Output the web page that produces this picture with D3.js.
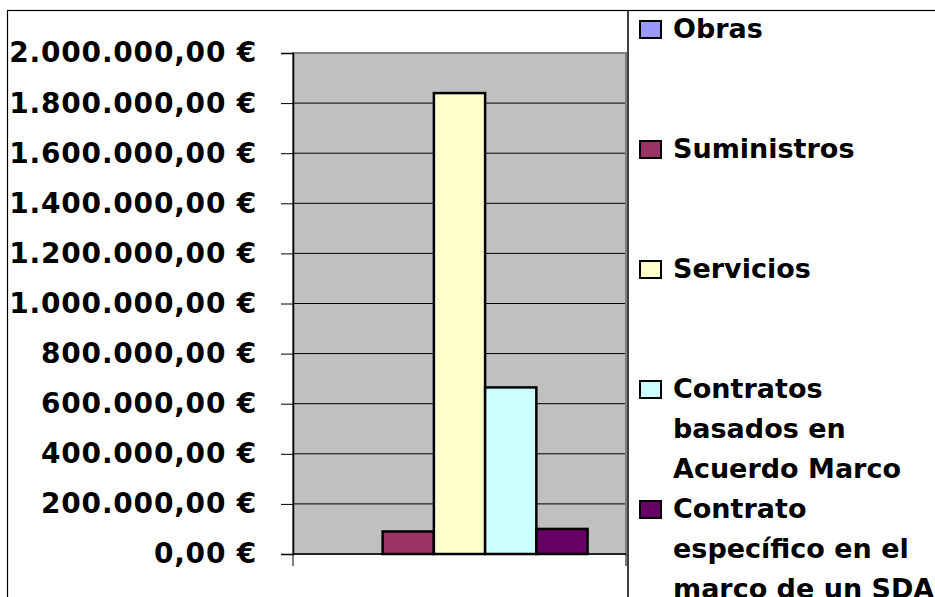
<!DOCTYPE html>
<html>
<head>
<meta charset="utf-8">
<script src="https://cdn.jsdelivr.net/npm/d3@7"></script>
<style>
  body { margin: 0; background: #fff; }
  svg { display: block; }
</style>
</head>
<body>
<div id="chart"></div>
<script>
// Datos
const series = ['Obras', 'Suministros', 'Servicios', 'Contratos basados en Acuerdo Marco', 'Contrato específico en el marco de un SDA'];
const values = [0, 90000, 1840000, 665000, 100000];
const colors = ['#9999FF', '#993366', '#FFFFCC', '#CCFFFF', '#660066'];
const legendLines = [
    ['Obras'],
    ['Suministros'],
    ['Servicios'],
    ['Contratos', 'basados en', 'Acuerdo Marco'],
    ['Contrato', 'específico en el', 'marco de un SDA']
];
const yTicks = [0, 200000, 400000, 600000, 800000, 1000000, 1200000, 1400000, 1600000, 1800000, 2000000];

const W = 935, H = 597;
const plot = { left: 293, right: 626, top: 53, bottom: 554 };

const svg = d3.select('#chart').append('svg')
    .attr('width', W)
    .attr('height', H);

// Borde exterior del gráfico
svg.append('rect')
    .attr('x', 7.5).attr('y', 10.5)
    .attr('width', W).attr('height', H)
    .attr('fill', 'none')
    .attr('stroke', '#000')
    .attr('stroke-width', 1.2);

const y = d3.scaleLinear()
    .domain([0, 2000000])
    .range([plot.bottom, plot.top]);

const x = d3.scaleBand()
    .domain(series)
    .range([plot.left, plot.right])
    .paddingInner(0)
    .paddingOuter(0.75);

// Formato español: 1.800.000,00 €
const es = d3.formatLocale({ decimal: ',', thousands: '.', grouping: [3], currency: ['', ' €'] });
const fmt = es.format('$,.2f');

// Fondo del área de trazado
svg.append('rect')
    .attr('x', plot.left).attr('y', plot.top)
    .attr('width', plot.right - plot.left).attr('height', plot.bottom - plot.top)
    .attr('fill', '#C0C0C0')
    .attr('stroke', '#808080')
    .attr('stroke-width', 2);

// Líneas de cuadrícula
svg.append('g')
    .selectAll('line')
    .data(yTicks.filter(d => d > 0 && d < 2000000))
    .enter().append('line')
    .attr('x1', plot.left).attr('x2', plot.right - 1)
    .attr('y1', d => y(d)).attr('y2', d => y(d))
    .attr('stroke', '#000')
    .attr('stroke-width', 1);

// Eje Y
const yAxis = svg.append('g')
    .attr('transform', `translate(${plot.left},0)`)
    .call(d3.axisLeft(y).tickValues(yTicks).tickFormat(fmt).tickSize(12).tickPadding(24));
yAxis.select('.domain').attr('stroke', '#000').attr('stroke-width', 1.5);
yAxis.selectAll('.tick line').attr('stroke', '#000').attr('stroke-width', 1);
yAxis.selectAll('text')
    .attr('font-family', 'DejaVu Sans, Verdana, sans-serif')
    .attr('font-weight', 'bold')
    .attr('font-size', '28px')
    .attr('letter-spacing', '0.8px')
    .attr('fill', '#000');

// Barras
svg.append('g')
    .selectAll('rect')
    .data(series.map((s, i) => ({ name: s, value: values[i], color: colors[i] })))
    .enter().append('rect')
    .attr('x', d => x(d.name))
    .attr('y', d => y(d.value))
    .attr('width', x.bandwidth())
    .attr('height', d => y(0) - y(d.value))
    .attr('fill', d => d.color)
    .attr('stroke', '#000')
    .attr('stroke-width', d => d.value > 0 ? 2.5 : 0);

// Eje X (una sola categoría, solo marcas en los extremos)
svg.append('line')
    .attr('x1', plot.left).attr('x2', plot.right)
    .attr('y1', plot.bottom).attr('y2', plot.bottom)
    .attr('stroke', '#000').attr('stroke-width', 1.5);
svg.append('g')
    .selectAll('line')
    .data([plot.left, plot.right])
    .enter().append('line')
    .attr('x1', d => d).attr('x2', d => d)
    .attr('y1', plot.bottom).attr('y2', plot.bottom + 12)
    .attr('stroke', '#000').attr('stroke-width', 1);

// Leyenda
svg.append('line')
    .attr('x1', 628).attr('x2', 628)
    .attr('y1', 10).attr('y2', H)
    .attr('stroke', '#000').attr('stroke-width', 1.5);

const legend = svg.append('g')
    .selectAll('g')
    .data(legendLines)
    .enter().append('g')
    .attr('transform', (d, i) => `translate(0,${38 + i * 120})`);

legend.append('rect')
    .attr('x', 640).attr('y', -17)
    .attr('width', 21).attr('height', 17)
    .attr('fill', (d, i) => colors[i])
    .attr('stroke', '#000')
    .attr('stroke-width', 2);

legend.append('text')
    .attr('font-family', 'DejaVu Sans, Verdana, sans-serif')
    .attr('font-weight', 'bold')
    .attr('font-size', '27px')
    .attr('fill', '#000')
    .selectAll('tspan')
    .data(d => d)
    .enter().append('tspan')
    .attr('x', 673)
    .attr('y', (d, j) => j * 40)
    .text(d => d);
</script>
</body>
</html>
